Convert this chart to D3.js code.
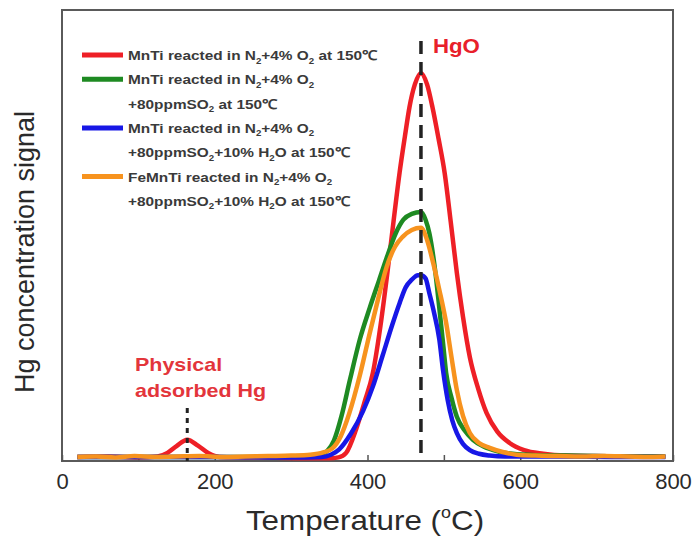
<!DOCTYPE html>
<meta charset="utf-8">
<style>
html, body {
  margin: 0;
  background: #fff;
}
svg {
  display: block;
  font-family: Arial, "Liberation Sans", sans-serif;
}
</style>
<body>
  <svg id="chart" width="700" height="540"></svg>
</body>
<script src="https://cdn.jsdelivr.net/npm/d3@7/dist/d3.min.js"></script>
<script>

/* data: [temperature (C), signal (a.u.)] */
var redMnTi = [
  [20,0.009],[60,0.010],[100,0.008],[125,0.010],[138,0.018],[150,0.033],[164,0.047],[178,0.034],[192,0.017],
  [206,0.009],[240,0.008],[280,0.007],[320,0.006],[350,0.006],[362,0.008],[372,0.018],[385,0.07],[396,0.13],
  [407,0.195],[417,0.30],[426,0.417],[434,0.53],[442,0.639],[449,0.72],[455,0.785],[462,0.835],[470,0.86],
  [478,0.835],[485,0.785],[493,0.715],[501,0.639],[509,0.53],[517,0.417],[525,0.32],[534,0.23],[545,0.16],
  [556,0.106],[570,0.065],[586,0.04],[605,0.024],[630,0.016],[660,0.012],[700,0.011],[750,0.010],[790,0.010]
]
var greenMnTiSO2 = [
  [20,0.009],[100,0.009],[200,0.009],[280,0.009],[320,0.010],[335,0.013],[347,0.022],[356,0.045],[366,0.10],
  [377,0.18],[390,0.27],[403,0.34],[415,0.40],[425,0.45],[437,0.505],[447,0.535],[458,0.548],[470,0.552],
  [476,0.535],[481,0.505],[488,0.43],[494,0.34],[499,0.26],[503,0.195],[510,0.14],[517,0.098],[527,0.068],
  [538,0.047],[552,0.032],[569,0.022],[590,0.016],[620,0.013],[660,0.012],[700,0.011],[750,0.010],[790,0.010]
]
var blueMnTiSO2H2O = [
  [20,0.009],[100,0.009],[200,0.009],[280,0.008],[320,0.008],[340,0.009],[352,0.014],[363,0.026],[378,0.06],
  [394,0.11],[407,0.165],[420,0.235],[432,0.30],[442,0.35],[450,0.385],[458,0.402],[466,0.412],[470,0.412],
  [476,0.405],[481,0.372],[487,0.33],[494,0.27],[499,0.20],[505,0.135],[511,0.09],[517,0.062],[525,0.038],
  [534,0.024],[546,0.016],[560,0.012],[580,0.010],[650,0.010],[720,0.009],[790,0.009]
]
var orangeFeMnTi = [
  [20,0.009],[45,0.010],[70,0.008],[95,0.011],[120,0.009],[150,0.010],[180,0.011],[210,0.009],[240,0.010],
  [270,0.011],[300,0.012],[325,0.014],[342,0.019],[354,0.028],[365,0.055],[376,0.105],[390,0.19],[403,0.284],
  [414,0.36],[425,0.43],[436,0.475],[446,0.497],[458,0.512],[470,0.517],[478,0.49],[485,0.446],[494,0.38],
  [503,0.306],[510,0.23],[517,0.157],[525,0.10],[534,0.062],[546,0.04],[560,0.029],[577,0.02],[595,0.014],
  [620,0.012],[650,0.011],[680,0.010],[710,0.011],[740,0.010],[770,0.009],[790,0.010]
]

var seriesData = [redMnTi, greenMnTiSO2, blueMnTiSO2H2O, orangeFeMnTi]
var seriesColors = ["#ee1f26", "#1e8a22", "#1717e6", "#f7931e"]
// "_x" = subscript x
var seriesLabels = [
  ["MnTi reacted in N_2+4% O_2 at 150\u2103"],
  ["MnTi reacted in N_2+4% O_2", "+80ppmSO_2 at 150\u2103"],
  ["MnTi reacted in N_2+4% O_2", "+80ppmSO_2+10% H_2O at 150\u2103"],
  ["FeMnTi reacted in N_2+4% O_2", "+80ppmSO_2+10% H_2O at 150\u2103"]
]

var xTicks = [0, 100, 200, 300, 400, 500, 600, 700, 800]
var xTickLabels = [0, 200, 400, 600, 800]
var hgoPeakT = 470
var physicalPeakT = 164

/* d3 */
var svg = d3.select("#chart")
var plotLeft = 62, plotRight = 673, plotTop = 10, plotBottom = 461
var stretch = 1.13   // the original figure is a bit wide-set

var x = d3.scaleLinear().domain([0, 800]).range([plotLeft, plotRight])
var y = d3.scaleLinear().domain([0, 1]).range([plotBottom, plotTop])

// frame
svg.append("rect")
    .attr("x", plotLeft).attr("y", plotTop)
    .attr("width", plotRight - plotLeft).attr("height", plotBottom - plotTop)
    .attr("fill", "none")
    .attr("stroke", "#5a5a5a")
    .attr("stroke-width", 2)

// x axis, ticks pointing inward
var xAxis = svg.append("g")
    .attr("transform", "translate(0," + plotBottom + ")")
    .call(d3.axisBottom(x).tickValues(xTicks).tickSizeInner(-6).tickSizeOuter(0)
      .tickFormat(function(d) { return xTickLabels.indexOf(d) >= 0 ? d : ""; }))
xAxis.select(".domain").remove()
xAxis.selectAll("line").attr("stroke", "#555").attr("stroke-width", 1.5)
xAxis.selectAll("text")
    .attr("y", 12)
    .attr("font-size", 22)
    .attr("font-family", "Arial, 'Liberation Sans', sans-serif")
    .attr("fill", "#2a2a2a")

// axis titles
var xTitle = svg.append("text")
    .attr("transform", "translate(365,530) scale(1.12,1)")
    .attr("text-anchor", "middle")
    .attr("font-size", 28)
    .attr("fill", "#2a2a2a")
xTitle.append("tspan").text("Temperature (")
xTitle.append("tspan").attr("font-size", 16).attr("dy", -12).text("o")
xTitle.append("tspan").attr("dy", 12).text("C)")

svg.append("text")
    .attr("transform", "translate(34," + 252 + ") rotate(-90)")
    .attr("text-anchor", "middle")
    .attr("font-size", 27)
    .attr("fill", "#2a2a2a")
    .text("Hg concentration signal")

// curves
var line = d3.line()
    .x(function(d) { return x(d[0]); })
    .y(function(d) { return y(d[1]); })
    .curve(d3.curveMonotoneX)

svg.append("g").selectAll("path")
    .data(seriesData)
  .enter().append("path")
    .attr("d", line)
    .attr("fill", "none")
    .attr("stroke", function(d, i) { return seriesColors[i]; })
    .attr("stroke-width", 4.5)
    .attr("stroke-linejoin", "round")

// marker lines
svg.append("line")
    .attr("x1", x(hgoPeakT)).attr("x2", x(hgoPeakT))
    .attr("y1", 41).attr("y2", plotBottom)
    .attr("stroke", "#222")
    .attr("stroke-width", 3.5)
    .attr("stroke-dasharray", "13,8")

svg.append("line")
    .attr("x1", x(physicalPeakT)).attr("x2", x(physicalPeakT))
    .attr("y1", 408).attr("y2", plotBottom)
    .attr("stroke", "#222")
    .attr("stroke-width", 3)
    .attr("stroke-dasharray", "5,5")

// annotations
svg.append("text")
    .attr("transform", "translate(" + (x(hgoPeakT) + 12) + ",53) scale(1.06,1)")
    .attr("font-size", 21)
    .attr("font-weight", "bold")
    .attr("fill", "#e8202a")
    .text("HgO")

var phys = svg.append("text")
    .attr("transform", "translate(135,0) scale(" + stretch + ",1)")
    .attr("font-size", 19)
    .attr("font-weight", "bold")
    .attr("fill", "#e3353b")
phys.append("tspan").attr("x", 0).attr("y", 371).text("Physical")
phys.append("tspan").attr("x", 0).attr("y", 397).text("adsorbed Hg")

// legend
function addRichText(sel, str) {
  var parts = str.split(/_(.)/)
  var shift = 0
  parts.forEach(function(p, i) {
    if (!p) return
    if (i % 2 === 1) {
      sel.append("tspan").attr("font-size", 8.5).attr("dy", 3.5 - shift).text(p)
      shift = 3.5
    } else {
      sel.append("tspan").attr("dy", -shift).text(p)
      shift = 0
    }
  })
}

var legend = svg.append("g")
var rowY = 55
seriesLabels.forEach(function(lines, i) {
  legend.append("line")
      .attr("x1", 82).attr("x2", 123)
      .attr("y1", rowY).attr("y2", rowY)
      .attr("stroke", seriesColors[i])
      .attr("stroke-width", 5)
  lines.forEach(function(txt) {
    var t = legend.append("text")
        .attr("transform", "translate(128," + (rowY + 5) + ") scale(1.14,1)")
        .attr("font-size", 13.5)
        .attr("font-weight", "bold")
        .attr("fill", "#3a3a3a")
    addRichText(t, txt)
    rowY += 24.3
  })
})

</script>
